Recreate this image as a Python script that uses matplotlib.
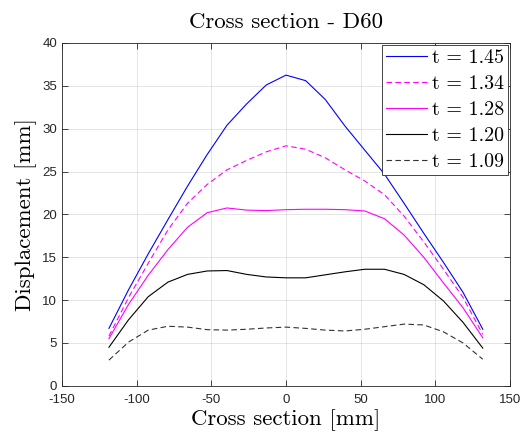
import numpy as np
import matplotlib
matplotlib.use("Agg")
import matplotlib.pyplot as plt

# cross-section positions [mm]
x_mm = [-118.5, -105.4, -92.2, -79.0, -65.9, -52.7, -39.5, -26.3, -13.2, 0.0,
        13.2, 26.3, 39.5, 52.7, 65.9, 79.0, 92.2, 105.4, 118.5, 131.7]

# displacement [mm] per thickness
d_145 = [6.7, 11.2, 15.4, 19.4, 23.3, 27.0, 30.4, 32.9, 35.1, 36.25,
         35.6, 33.4, 30.3, 27.5, 24.7, 21.3, 17.8, 14.4, 10.9, 6.6]
d_134 = [5.8, 10.3, 14.3, 18.2, 21.3, 23.5, 25.2, 26.3, 27.3, 28.0,
         27.6, 26.6, 25.2, 23.9, 22.3, 19.8, 16.8, 13.6, 10.3, 6.0]
d_128 = [5.5, 9.5, 12.9, 15.9, 18.5, 20.2, 20.75, 20.5, 20.45, 20.55,
         20.6, 20.6, 20.55, 20.4, 19.5, 17.6, 15.0, 12.0, 9.1, 5.6]
d_120 = [4.5, 7.7, 10.4, 12.1, 13.0, 13.4, 13.45, 13.0, 12.7, 12.6,
         12.6, 12.95, 13.3, 13.6, 13.6, 13.0, 11.8, 9.9, 7.4, 4.4]
d_109 = [3.0, 5.1, 6.5, 6.95, 6.85, 6.55, 6.5, 6.6, 6.75, 6.85,
         6.7, 6.5, 6.4, 6.6, 6.9, 7.2, 7.1, 6.3, 5.0, 3.1]

labels = ["t = 1.45", "t = 1.34", "t = 1.28", "t = 1.20", "t = 1.09"]
series = [d_145, d_134, d_128, d_120, d_109]
styles = [("#0000ff", "-"), ("#ff00ff", "--"), ("#ff00ff", "-"),
          ("#000000", "-"), ("#333333", "--")]

AX = "#262626"
SERIF = "cmr10"
plt.rcParams["axes.unicode_minus"] = False

fig = plt.figure(figsize=(5.2, 4.34), dpi=100)
ax = fig.add_axes([0.119, 0.111, 0.862, 0.790])

for y, lab, (c, ls) in zip(series, labels, styles):
    ax.plot(x_mm, y, color=c, ls=ls, lw=0.8, label=lab,
            dashes=(5, 3) if ls == "--" else (None, None))

ax.set_xlim(-150, 150)
ax.set_ylim(0, 40)
ax.set_xticks(np.arange(-150, 151, 50))
ax.set_yticks(np.arange(0, 41, 5))
ax.grid(True, color="#000000", alpha=0.12, lw=0.6)
ax.tick_params(direction="in", top=True, right=True, length=4, width=0.6,
               colors=AX, labelsize=9.5)
ax.tick_params(axis="x", pad=6)
for lbl in ax.get_xticklabels() + ax.get_yticklabels():
    lbl.set_fontfamily("Liberation Sans")
for s in ax.spines.values():
    s.set_color(AX)
    s.set_linewidth(0.6)

ax.set_title("Cross section - D60", fontfamily=SERIF, fontsize=16.5, pad=11)
ax.set_xlabel("Cross section [mm]", fontfamily=SERIF, fontsize=16.5, labelpad=2)
ax.set_ylabel("Displacement [mm]", fontfamily=SERIF, fontsize=16.5, labelpad=4)

leg = ax.legend(loc="upper right", prop={"family": SERIF, "size": 14.4},
                fancybox=False, framealpha=1, edgecolor=AX,
                borderaxespad=0.1, handlelength=2.05, handletextpad=0.25,
                labelspacing=0.4, borderpad=0.2)
leg.get_frame().set_linewidth(0.6)

fig.savefig("out.png", dpi=100)
